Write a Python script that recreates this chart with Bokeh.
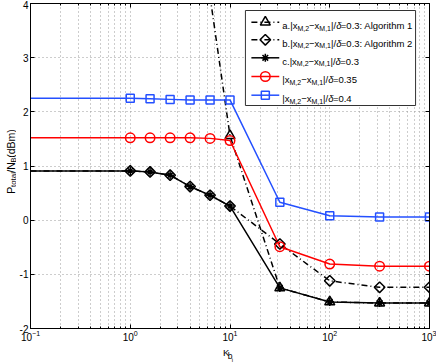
import math
from bokeh.plotting import figure
from bokeh.layouts import row, column
from bokeh.models import Range1d, FixedTicker, LinearAxis, LogAxis, Label, CustomJSTickFormatter
from bokeh.embed import file_html
from bokeh.resources import INLINE

# ---------------- data ----------------
K = [0.1, 1, 1.58, 2.51, 3.98, 6.31, 10, 31.6, 100, 316, 1000]
alg1_K = [6.31, 10, 31.6, 100, 316, 1000]
alg1 = [4.13, 1.56, -1.25, -1.51, -1.53, -1.53]
alg2 = [0.91, 0.91, 0.89, 0.83, 0.62, 0.46, 0.26, -0.44, -1.12, -1.24, -1.24]
opt03 = [0.91, 0.91, 0.89, 0.83, 0.62, 0.46, 0.26, -1.25, -1.51, -1.53, -1.53]
d035 = [1.52, 1.52, 1.52, 1.52, 1.52, 1.51, 1.47, -0.49, -0.81, -0.85, -0.85]
d04 = [2.25, 2.25, 2.24, 2.23, 2.22, 2.22, 2.22, 0.33, 0.08, 0.06, 0.06]
x_ticks = [0.1, 1, 10, 100, 1000]
y_ticks = [-2, -1, 0, 1, 2, 3, 4]
legend_prefix = ["a.|x", "b.|x", "c.|x", "|x", "|x"]
legend_suffix = ["=0.3: Algorithm 1", "=0.3: Algorithm 2", "=0.3", "=0.35", "=0.4"]
y_label_pieces = [("P", "n"), ("total", "s"), ("/N", "n"), ("B", "s"), (" (dBm)", "n")]

FONT = "Liberation Sans"
BLUE = "#2450ff"
RED = "#ff0000"
DASHDOT = "6 3 1 3"

# ---------------- layout (page pixels) ----------------
YLW = 16                       # width of the y-label strip
W, H = 420, 343                # main figure
XLH = 20                       # height of the x-label strip
BL, BR, BT, BB = 12, 7, 3, 15
FW, FH = W - BL - BR, H - BT - BB
FX0, FY0 = YLW + BL, BT        # frame origin in page pixels

def px2x(ix):
    return 10 ** (-1 + 4 * (ix - FX0) / FW)

def py2y(iy):
    return 4 - 6 * (iy - FY0) / FH

AW = {'a': 556, '.': 278, '|': 260, 'x': 500, 'M': 833, ',': 278, '−': 584, '/': 278,
      'δ': 494, '=': 584, ':': 278, ' ': 278, 'A': 667, 'l': 222, 'g': 556, 'o': 556,
      'r': 333, 'i': 222, 't': 278, 'h': 556, 'm': 833, 'b': 556, 'c': 500, 'P': 667,
      'N': 722, 'B': 667, '(': 333, ')': 333, 'd': 556, 'K': 667, '-': 333}

def tw(s, size):
    return sum(AW.get(ch, 556) for ch in s) * size / 1000.0

p = figure(width=W, height=H, x_axis_type="log",
           x_range=Range1d(0.1, 1000), y_range=Range1d(-2, 4),
           output_backend="svg", toolbar_location=None,
           min_border_left=BL, min_border_right=BR, min_border_top=BT, min_border_bottom=BB)
p.background_fill_color = "white"
p.border_fill_color = "white"
p.outline_line_color = "black"
p.outline_line_width = 1

minor = [m * 10 ** e for e in (-1, 0, 1, 2) for m in range(2, 10)]
empty_fmt = CustomJSTickFormatter(code="return ''")

# left axis
ya = p.yaxis[0]
ya.ticker = FixedTicker(ticks=y_ticks)
ya.major_label_overrides = {t: str(t) for t in y_ticks}
ya.major_tick_in = 4
ya.major_tick_out = 0
ya.minor_tick_line_color = None
ya.major_label_text_font = FONT
ya.major_label_text_font_size = "10px"
ya.major_label_text_color = "black"
ya.major_label_standoff = 2
ya.axis_line_color = "black"
ya.major_tick_line_color = "black"

# bottom axis: 10^n labels from Bokeh's log formatter
xa = p.xaxis[0]
xa.ticker = FixedTicker(ticks=x_ticks, minor_ticks=minor)
xa.major_label_text_font = FONT
xa.major_label_text_font_size = "10px"
xa.major_label_text_color = "black"
xa.major_label_standoff = 1
xa.major_tick_in = 4
xa.major_tick_out = 0
xa.minor_tick_in = 2
xa.minor_tick_out = 0
xa.axis_line_color = "black"
xa.major_tick_line_color = "black"
xa.minor_tick_line_color = "black"

# right & top axes (ticks only)
ra = LinearAxis(ticker=FixedTicker(ticks=y_ticks), formatter=empty_fmt,
                major_label_text_font_size="0px", major_label_standoff=0,
                major_tick_in=4, major_tick_out=0, minor_tick_line_color=None,
                axis_line_color="black")
p.add_layout(ra, "right")
ta = LogAxis(ticker=FixedTicker(ticks=x_ticks, minor_ticks=minor), formatter=empty_fmt,
             major_label_text_font_size="0px", major_label_standoff=0,
             major_tick_in=4, major_tick_out=0, minor_tick_in=2, minor_tick_out=0,
             axis_line_color="black")
p.add_layout(ta, "above")

# grid
for g in (p.xgrid, p.ygrid):
    g.grid_line_color = "#9a9a9a"
    g.grid_line_dash = "1 3"
    g.grid_line_width = 1
p.xgrid.minor_grid_line_color = "#9a9a9a"
p.xgrid.minor_grid_line_dash = "1 3"
p.xgrid.minor_grid_line_width = 1

# ---------------- series ----------------
LW = 1.5
p.line(K, opt03, line_color="black", line_width=LW)
p.line(K, alg2, line_color="black", line_width=LW, line_dash=DASHDOT)
p.line(alg1_K, alg1, line_color="black", line_width=LW, line_dash=DASHDOT)
p.line(K, d035, line_color=RED, line_width=LW)
p.line(K, d04, line_color=BLUE, line_width=LW)

a_pts = [(x, y) for x, y in zip(alg1_K, alg1) if y <= 4]
p.scatter([q[0] for q in a_pts], [q[1] for q in a_pts], marker="triangle", size=10,
          fill_color=None, line_color="black", line_width=LW)
p.scatter(K[1:], alg2[1:], marker="square", angle=math.pi / 4, size=7.5,
          fill_color=None, line_color="black", line_width=LW)
p.scatter(K[1:], opt03[1:], marker="asterisk", size=8, line_color="black", line_width=LW)
p.scatter(K[1:], d035[1:], marker="circle", size=9.5, fill_color=None,
          line_color=RED, line_width=LW)
p.scatter(K[1:], d04[1:], marker="square", size=8, fill_color=None,
          line_color=BLUE, line_width=LW)

# ---------------- legend ----------------
box_l, box_r, box_t, box_b = 244, 415, 10, 105
rows = [21.7, 39.3, 57.3, 76.0, 94.7]
line_l, line_r, line_m, text_l = 250, 278, 264, 281
p.quad(left=[px2x(box_l)], right=[px2x(box_r)], top=[py2y(box_t)], bottom=[py2y(box_b)],
       fill_color="white", line_color="#333333", line_width=1, level="annotation")

styles = [("black", DASHDOT, "triangle", 10, 0, "black"),
          ("black", DASHDOT, "square", 7.5, math.pi / 4, "black"),
          ("black", "solid", "asterisk", 8, 0, "black"),
          (RED, "solid", "circle", 9.5, 0, RED),
          (BLUE, "solid", "square", 8, 0, BLUE)]
for ry, (col, dash, mk, ms, ang, mcol) in zip(rows, styles):
    yy = py2y(ry)
    p.line([px2x(line_l), px2x(line_r)], [yy, yy], line_color=col, line_width=LW,
           line_dash=dash, level="overlay")
    p.scatter([px2x(line_m)], [yy], marker=mk, size=ms, angle=ang, fill_color=None,
              line_color=mcol, line_width=LW, level="overlay")

MAIN, SUB = 9.5, 7
for ry, pre, suf in zip(rows, legend_prefix, legend_suffix):
    yb = py2y(ry + 3.3)
    pieces = [(pre, "n"), ("M,2", "s"), ("−x", "n"), ("M,1", "s"), ("|/", "n"),
              ("δ", "g"), (suf, "n")]
    xo = 0.0
    for t, k in pieces:
        size = SUB if k == "s" else MAIN
        p.add_layout(Label(x=px2x(text_l), y=yb, x_offset=xo, y_offset=(-2.8 if k == "s" else 0),
                           text=t, text_font=FONT, text_font_size=f"{size}px",
                           text_font_style=("italic" if k == "g" else "normal"),
                           text_baseline="alphabetic", text_align="left",
                           text_color="black", level="overlay"))
        xo += tw(t, size)

# ---------------- y-axis title strip ----------------
yl = figure(width=YLW, height=H, x_range=Range1d(0, YLW), y_range=Range1d(0, H),
            x_axis_location=None, y_axis_location=None, toolbar_location=None,
            output_backend="svg", min_border=0)
yl.outline_line_color = None
yl.grid.visible = False
YMAIN, YSUB = 10.5, 8
tot = sum(tw(t, YMAIN if k == "n" else YSUB) for t, k in y_label_pieces)
start = (H - 166) - tot / 2
for t, k in y_label_pieces:
    size = YMAIN if k == "n" else YSUB
    yl.add_layout(Label(x=10.0 + (2.5 if k == "s" else 0), y=start, text=t,
                        angle=math.pi / 2, text_font=FONT, text_font_size=f"{size}px",
                        text_baseline="alphabetic", text_align="left", text_color="black"))
    start += tw(t, size)

# ---------------- x-axis title strip ----------------
xl = figure(width=YLW + W, height=XLH, x_range=Range1d(0, YLW + W), y_range=Range1d(0, XLH),
            x_axis_location=None, y_axis_location=None, toolbar_location=None,
            output_backend="svg", min_border=0)
xl.outline_line_color = None
xl.grid.visible = False
xc = FX0 + FW / 2 - 6
xl.add_layout(Label(x=xc, y=XLH - 8.8, text="K", text_font=FONT, text_font_size="9.5px",
                    text_baseline="alphabetic", text_align="left", text_color="black"))
xl.add_layout(Label(x=xc + 4.8, y=XLH - 12.6, text="b", text_font=FONT, text_font_size="8.5px",
                    text_baseline="alphabetic", text_align="left", text_color="black"))
xl.add_layout(Label(x=xc + 8.8, y=XLH - 16.8, text="i", text_font=FONT, text_font_size="6px",
                    text_baseline="alphabetic", text_align="left", text_color="black"))

layout = column(row(yl, p, spacing=0), xl, spacing=0)
open("out.html", "w").write(file_html(layout, INLINE))
